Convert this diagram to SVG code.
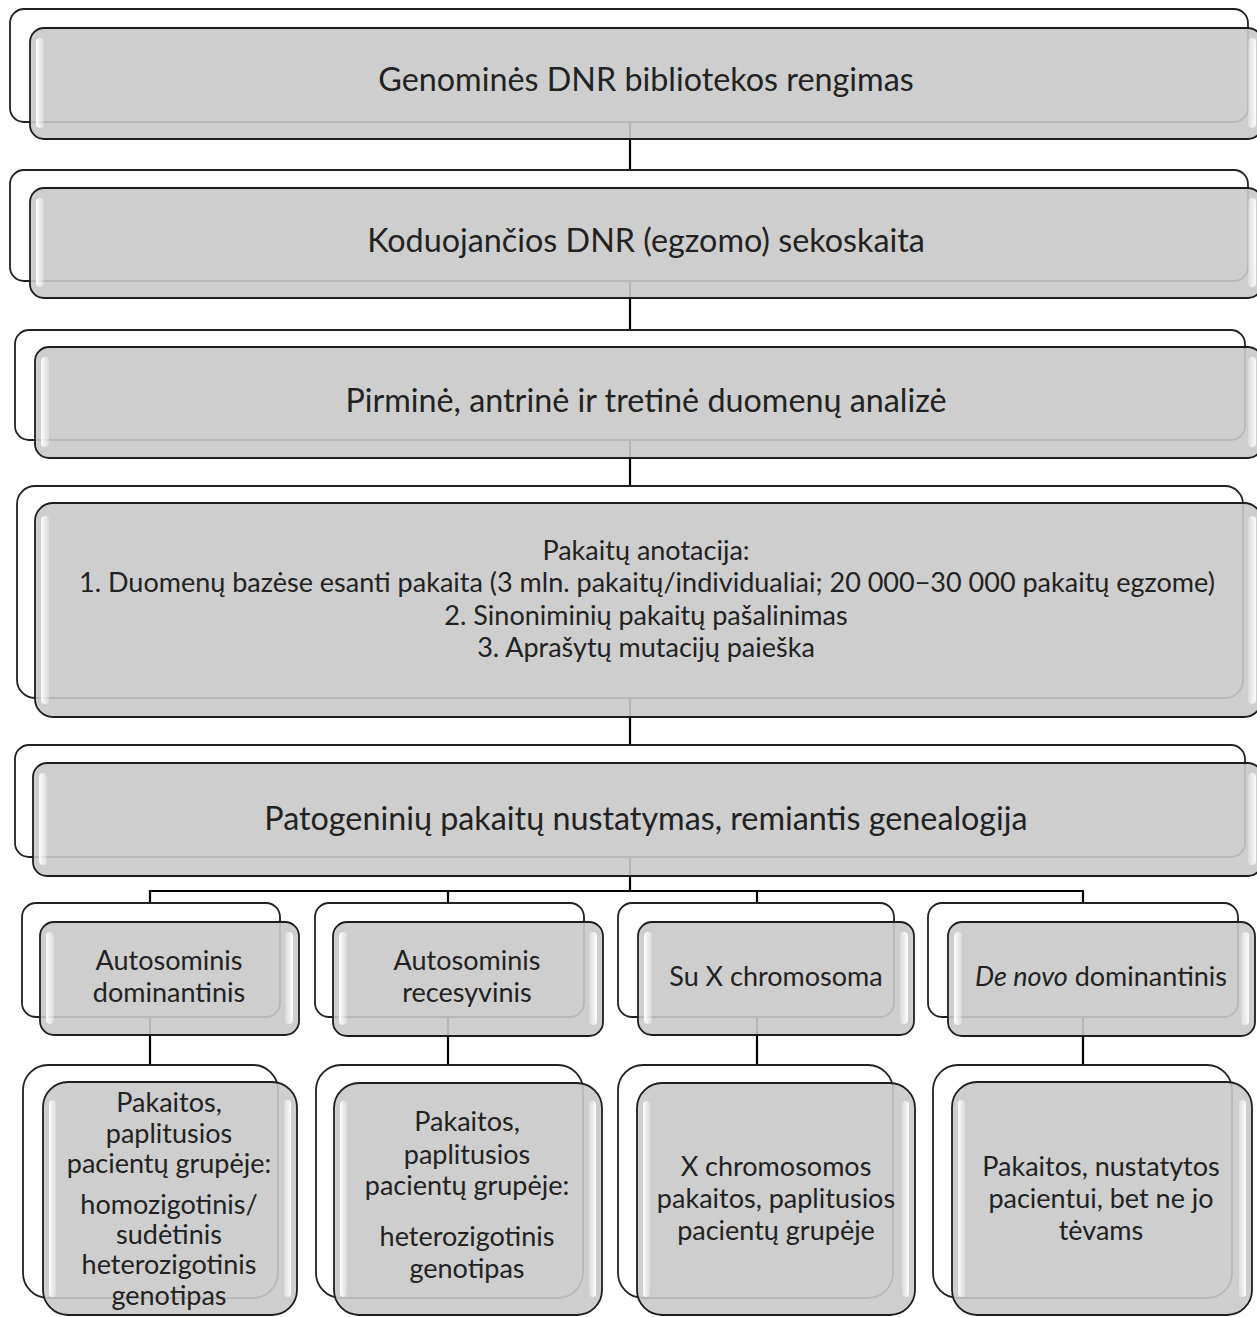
<svg xmlns="http://www.w3.org/2000/svg" width="1257" height="1317" viewBox="0 0 1257 1317">
<defs>
<linearGradient id="hlL" x1="0" y1="0" x2="1" y2="0">
<stop offset="0" stop-color="#ffffff" stop-opacity="0.95"/>
<stop offset="1" stop-color="#ffffff" stop-opacity="0.25"/>
</linearGradient>
<linearGradient id="hlR" x1="1" y1="0" x2="0" y2="0">
<stop offset="0" stop-color="#ffffff" stop-opacity="0.95"/>
<stop offset="1" stop-color="#ffffff" stop-opacity="0.25"/>
</linearGradient>
</defs>
<style>
.back{fill:#ffffff;stroke:#222222;stroke-width:1.8}
.front{fill:#c9c9c9;fill-opacity:0.9;stroke:#1e1e1e;stroke-width:1.8}
.hl{fill:url(#hlL)}
.hr{fill:url(#hlR)}
.conn{fill:none;stroke:#000000;stroke-width:2.2}
.t{font-family:Lato,"Liberation Sans",sans-serif;fill:#222222;text-anchor:middle}
.big{font-size:32.3px}
.mid{font-size:27px}
.sm{font-size:27px}
</style>
<rect width="1257" height="1317" fill="#ffffff"/>
<g id="connectors">
<path class="conn" d="M630,122 V170 M630,281 V330 M630,440 V486 M630,698 V745 M630,857 V891 M150,903 V891 H1083 V903 M448,891 V903 M757,891 V903 M150,1017 V1065 M448,1017 V1065 M757,1017 V1065 M1083,1017 V1065"/>
</g>
<g id="n1">
<rect class="back" x="10" y="9" width="1238" height="113" rx="14"/>
<rect class="front" x="30" y="28" width="1232" height="111" rx="14"/>
<rect class="hl" x="36" y="38" width="8" height="90" rx="4"/>
<rect class="hr" x="1248" y="38" width="8" height="90" rx="4"/>
<text class="t big" x="646" y="91">Genominės DNR bibliotekos rengimas</text>
</g>
<g id="n2">
<rect class="back" x="10" y="170" width="1238" height="111" rx="14"/>
<rect class="front" x="30" y="188" width="1232" height="110" rx="14"/>
<rect class="hl" x="36" y="198" width="8" height="89" rx="4"/>
<rect class="hr" x="1248" y="198" width="8" height="89" rx="4"/>
<text class="t big" x="646" y="252">Koduojančios DNR (egzomo) sekoskaita</text>
</g>
<g id="n3">
<rect class="back" x="15" y="330" width="1230" height="110" rx="14"/>
<rect class="front" x="35" y="347" width="1227" height="111" rx="14"/>
<rect class="hl" x="41" y="357" width="8" height="90" rx="4"/>
<rect class="hr" x="1248" y="357" width="8" height="90" rx="4"/>
<text class="t big" x="646" y="412">Pirminė, antrinė ir tretinė duomenų analizė</text>
</g>
<g id="n4">
<rect class="back" x="17" y="486" width="1226" height="212" rx="18"/>
<rect class="front" x="35" y="503" width="1227" height="214" rx="18"/>
<rect class="hl" x="41" y="516" width="8" height="188" rx="4"/>
<rect class="hr" x="1248" y="516" width="8" height="188" rx="4"/>
<text class="t mid" x="646" y="560">Pakaitų anotacija:</text>
<text class="t mid" x="647" y="592">1. Duomenų bazėse esanti pakaita (3 mln. pakaitų/individualiai; 20 000−30 000 pakaitų egzome)</text>
<text class="t mid" x="646" y="625">2. Sinoniminių pakaitų pašalinimas</text>
<text class="t mid" x="646" y="657">3. Aprašytų mutacijų paieška</text>
</g>
<g id="n5">
<rect class="back" x="15" y="745" width="1230" height="112" rx="14"/>
<rect class="front" x="33" y="763" width="1229" height="113" rx="14"/>
<rect class="hl" x="39" y="773" width="8" height="92" rx="4"/>
<rect class="hr" x="1248" y="773" width="8" height="92" rx="4"/>
<text class="t big" x="646" y="830">Patogeninių pakaitų nustatymas, remiantis genealogija</text>
</g>
<g id="c1">
<rect class="back" x="22" y="903" width="258" height="114" rx="14"/>
<rect class="front" x="40" y="922" width="259" height="113" rx="14"/>
<rect class="hl" x="46" y="932" width="8" height="92" rx="4"/>
<rect class="hr" x="285" y="932" width="8" height="92" rx="4"/>
<text class="t mid" x="169" y="970">Autosominis</text>
<text class="t mid" x="169" y="1002">dominantinis</text>
</g>
<g id="c2">
<rect class="back" x="315" y="903" width="269" height="114" rx="14"/>
<rect class="front" x="333" y="922" width="270" height="114" rx="14"/>
<rect class="hl" x="339" y="932" width="8" height="93" rx="4"/>
<rect class="hr" x="589" y="932" width="8" height="93" rx="4"/>
<text class="t mid" x="467" y="970">Autosominis</text>
<text class="t mid" x="467" y="1002">recesyvinis</text>
</g>
<g id="c3">
<rect class="back" x="618" y="903" width="276" height="114" rx="14"/>
<rect class="front" x="638" y="922" width="276" height="113" rx="14"/>
<rect class="hl" x="644" y="932" width="8" height="92" rx="4"/>
<rect class="hr" x="900" y="932" width="8" height="92" rx="4"/>
<text class="t mid" x="776" y="986">Su X chromosoma</text>
</g>
<g id="c4">
<rect class="back" x="928" y="903" width="310" height="114" rx="14"/>
<rect class="front" x="948" y="922" width="307" height="114" rx="14"/>
<rect class="hl" x="954" y="932" width="8" height="93" rx="4"/>
<rect class="hr" x="1241" y="932" width="8" height="93" rx="4"/>
<text class="t mid" x="1101" y="986"><tspan font-style="italic">De novo</tspan> dominantinis</text>
</g>
<g id="d1">
<rect class="back" x="23" y="1065" width="255" height="233" rx="25"/>
<rect class="front" x="43" y="1082" width="254" height="233" rx="25"/>
<rect class="hl" x="49" y="1100" width="7" height="197" rx="3.5"/>
<rect class="hr" x="284" y="1100" width="7" height="197" rx="3.5"/>
<text class="t sm" x="169" y="1112">Pakaitos,</text>
<text class="t sm" x="169" y="1143">paplitusios</text>
<text class="t sm" x="169" y="1173">pacientų grupėje:</text>
<text class="t sm" x="169" y="1214">homozigotinis/</text>
<text class="t sm" x="169" y="1244">sudėtinis</text>
<text class="t sm" x="169" y="1274">heterozigotinis</text>
<text class="t sm" x="169" y="1305">genotipas</text>
</g>
<g id="d2">
<rect class="back" x="316" y="1065" width="267" height="233" rx="25"/>
<rect class="front" x="334" y="1083" width="268" height="232" rx="25"/>
<rect class="hl" x="340" y="1101" width="7" height="196" rx="3.5"/>
<rect class="hr" x="589" y="1101" width="7" height="196" rx="3.5"/>
<text class="t mid" x="467" y="1131">Pakaitos,</text>
<text class="t mid" x="467" y="1164">paplitusios</text>
<text class="t mid" x="467" y="1195">pacientų grupėje:</text>
<text class="t mid" x="467" y="1246">heterozigotinis</text>
<text class="t mid" x="467" y="1278">genotipas</text>
</g>
<g id="d3">
<rect class="back" x="618" y="1065" width="275" height="233" rx="25"/>
<rect class="front" x="637" y="1083" width="278" height="232" rx="25"/>
<rect class="hl" x="643" y="1101" width="7" height="196" rx="3.5"/>
<rect class="hr" x="902" y="1101" width="7" height="196" rx="3.5"/>
<text class="t mid" x="776" y="1176">X chromosomos</text>
<text class="t mid" x="776" y="1208">pakaitos, paplitusios</text>
<text class="t mid" x="776" y="1240">pacientų grupėje</text>
</g>
<g id="d4">
<rect class="back" x="933" y="1065" width="299" height="233" rx="25"/>
<rect class="front" x="952" y="1082" width="300" height="233" rx="25"/>
<rect class="hl" x="958" y="1100" width="7" height="197" rx="3.5"/>
<rect class="hr" x="1239" y="1100" width="7" height="197" rx="3.5"/>
<text class="t mid" x="1101" y="1176">Pakaitos, nustatytos</text>
<text class="t mid" x="1101" y="1208">pacientui, bet ne jo</text>
<text class="t mid" x="1101" y="1240">tėvams</text>
</g>
</svg>
